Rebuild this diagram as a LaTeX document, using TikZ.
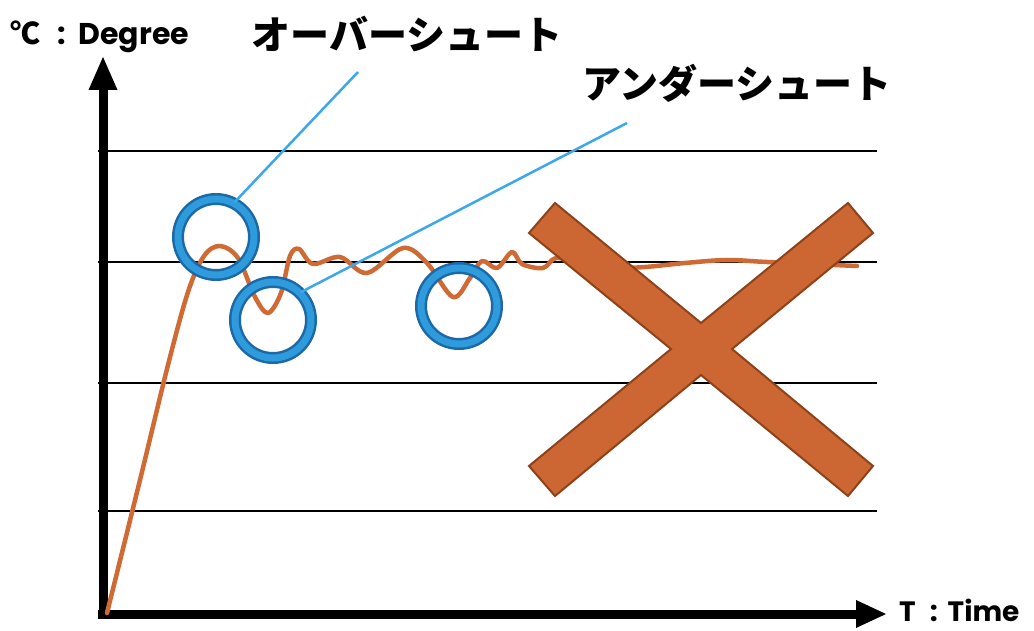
\documentclass[tikz,border=0pt]{standalone}
\usepackage{fontspec}
\setmainfont{Poppins}
\newfontfamily\cjk{Noto Sans CJK JP}
\definecolor{curveor}{HTML}{D06A35}
\definecolor{xfill}{HTML}{CC6633}
\definecolor{xedge}{HTML}{8E4219}
\definecolor{ringlight}{HTML}{2E9BDD}
\definecolor{ringdark}{HTML}{1D68A6}
\definecolor{leader}{HTML}{3AA8EA}
\tikzset{
  gridline/.style={line width=2.5pt,black},
  axisline/.style={line width=9pt,black},
  ring/.style={circle,minimum size=76pt,inner sep=0pt,draw=ringdark,line width=2.5pt,double=ringlight,double distance=7pt},
  leaderline/.style={leader,line width=2.5pt},
  lbl/.style={inner sep=0pt,font=\bfseries},
}
\begin{document}
\begin{tikzpicture}[x=1pt,y=-1pt]
\useasboundingbox (0,0) rectangle (1034,631);
\fill[white] (0,0) rectangle (1034,631);
% grid
\foreach \yy in {151,262,383,511}
  \draw[gridline] (98,\yy) -- (877,\yy);
% axes
\draw[axisline] (103,618) -- (103,86);
\fill (103,57) -- (117.5,90) -- (88.5,90) -- cycle;
\draw[axisline] (98,614) -- (860,614);
\fill (886,614) -- (856,600) -- (856,628) -- cycle;
% curve
\draw[curveor,line width=4.5pt,line cap=round,line join=round] plot[smooth,tension=0.55] coordinates {
(107,613) (140,480) (168,365) (188,292) (204,256) (220,246) (238,258) (255,297) (268,313) (281,293) (290,256) (299,249) (313,264) (340,257) (367,273) (403,248) (427,263) (453,297) (470,278) (482,261) (497,268) (512,252) (522,264) (543,268) (556,258) (580,263) (610,268) (645,267) (685,263) (727,260) (767,262) (857,266)};
% X
\draw[fill=xfill,draw=xedge,line width=2pt,line join=miter]
 (555,203) -- (701,323) -- (848,203) -- (873,233) -- (732,349) -- (873,466) -- (848,496) -- (701,375) -- (555,496) -- (529,466) -- (671,349) -- (529,233) -- cycle;
% rings
\node[ring] (c1) at (216,237) {};
\node[ring] (c2) at (273,320) {};
\node[ring] (c3) at (459,306) {};
\coordinate (e1) at (358,72);
\coordinate (e2) at (627,123);
\draw[leaderline] (c1.62) -- (e1);
\draw[leaderline] (c2.45) -- (e2);
% labels
\node[lbl,anchor=base west,font=\bfseries\fontsize{30}{30}\selectfont] (deg) at (10,45) {{\cjk ℃}\hspace{17pt}:\hspace{13pt}Degree};
\node[lbl,anchor=base west,font=\bfseries\fontsize{28}{28}\selectfont] (tim) at (899,621) {T\hspace{14pt}:\hspace{10pt}Time};
\node[lbl,font=\cjk\bfseries\fontsize{39}{39}\selectfont] (over) at (407,34) {オーバーシュート};
\node[lbl,font=\cjk\bfseries\fontsize{39}{39}\selectfont] (under) at (737,83) {アンダーシュート};
\end{tikzpicture}
\end{document}
